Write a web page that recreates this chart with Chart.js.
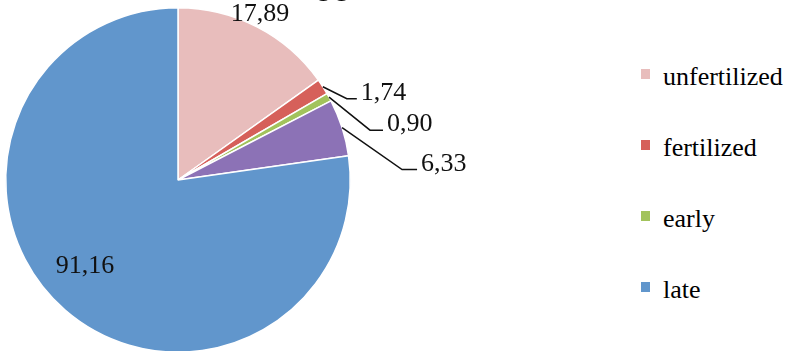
<!DOCTYPE html>
<html>
<head>
<meta charset="utf-8">
<script src="https://cdn.jsdelivr.net/npm/chart.js@4/dist/chart.umd.min.js"></script>
<style>
  html, body { margin: 0; padding: 0; background: #fff; overflow: hidden; }
  #wrap { position: relative; width: 787px; height: 351px; overflow: hidden; }
  #pie-box { position: absolute; left: 0; top: 0; width: 520px; height: 360px; }
  #legend { position: absolute; left: 641px; top: 41px; }
  .lg-row { display: flex; align-items: center; height: 71px; font-family: "Liberation Serif", "Times New Roman", serif; font-size: 26px; color: #000; }
  .lg-box { width: 9px; height: 10px; margin-right: 13px; margin-top: -6px; }
</style>
</head>
<body>
<div id="wrap">
  <div id="pie-box"><canvas id="eggs-pie"></canvas></div>
  <div id="legend"></div>
</div>
<script>
var stages = ['unfertilized', 'fertilized', 'early', '', 'late'];
var values = [17.89, 1.74, 0.90, 6.33, 91.16];
var colors = ['#E8BDBC', '#D6605A', '#A2C35C', '#8C72B6', '#6196CC'];

// where each value label goes (Excel-style manual placement)
var labelSpots = [
  { k: 1.075, shift: -1 },
  { elbow: [24, 12], tail: 10 },
  { elbow: [41, 33], tail: 13 },
  { elbow: [60, 42], tail: 15 },
  { k: 0.736, shift: 6.3 }
];

function fmt(v) {
  return v.toFixed(2).replace('.', ',');
}

var pieLabels = {
  id: 'pieLabels',
  afterDatasetsDraw(chart) {
    const ctx = chart.ctx;
    const arcs = chart.getDatasetMeta(0).data;
    ctx.save();
    ctx.font = '26px "Liberation Serif", serif';
    ctx.fillStyle = '#111';
    ctx.strokeStyle = '#111';
    ctx.lineWidth = 1.5;
    arcs.forEach(function (arc, i) {
      const p = arc.getProps(['x', 'y', 'startAngle', 'endAngle', 'outerRadius'], true);
      const s = labelSpots[i];
      let mid = (p.startAngle + p.endAngle) / 2;
      const txt = fmt(values[i]);
      if (s.elbow) {
        const ax = p.x + Math.cos(mid) * p.outerRadius;
        const ay = p.y + Math.sin(mid) * p.outerRadius;
        const ex = ax + s.elbow[0], ey = ay + s.elbow[1];
        ctx.beginPath();
        ctx.moveTo(ax, ay);
        ctx.lineTo(ex, ey);
        ctx.lineTo(ex + s.tail, ey);
        ctx.stroke();
        ctx.textAlign = 'left';
        ctx.textBaseline = 'alphabetic';
        ctx.fillText(txt, ex + s.tail + 4, ey + 1);
      } else {
        if (s.shift) mid += s.shift * Math.PI / 180;
        const r = p.outerRadius * s.k;
        ctx.textAlign = 'center';
        ctx.textBaseline = 'middle';
        ctx.fillText(txt, p.x + Math.cos(mid) * r, p.y + Math.sin(mid) * r);
      }
    });
    // title sits above the picture, only the descenders show
    ctx.font = 'bold 30px "Liberation Sans", sans-serif';
    ctx.textAlign = 'left';
    ctx.textBaseline = 'alphabetic';
    ctx.fillStyle = '#000';
    ctx.fillText('eggs', 298, -5);
    ctx.restore();
  }
};

var pieChart = new Chart(document.getElementById('eggs-pie'), {
  type: 'pie',
  data: {
    labels: stages,
    datasets: [{
      data: values,
      backgroundColor: colors,
      borderColor: '#ffffff',
      borderWidth: 1.5
    }]
  },
  options: {
    responsive: true,
    maintainAspectRatio: false,
    animation: false,
    layout: { padding: { left: 5, right: 169, top: 7, bottom: 7 } },
    plugins: {
      legend: { display: false },
      tooltip: { enabled: false }
    }
  },
  plugins: [pieLabels]
});

// html legend from the chart's own legend items, unlabeled slice left out
var items = pieChart.options.plugins.legend.labels.generateLabels(pieChart);
var lg = document.getElementById('legend');
items.forEach(function (it) {
  if (!it.text) return;
  lg.insertAdjacentHTML('beforeend',
    '<div class="lg-row"><span class="lg-box" style="background:' + it.fillStyle + '"></span>' + it.text + '</div>');
});
</script>
</body>
</html>
